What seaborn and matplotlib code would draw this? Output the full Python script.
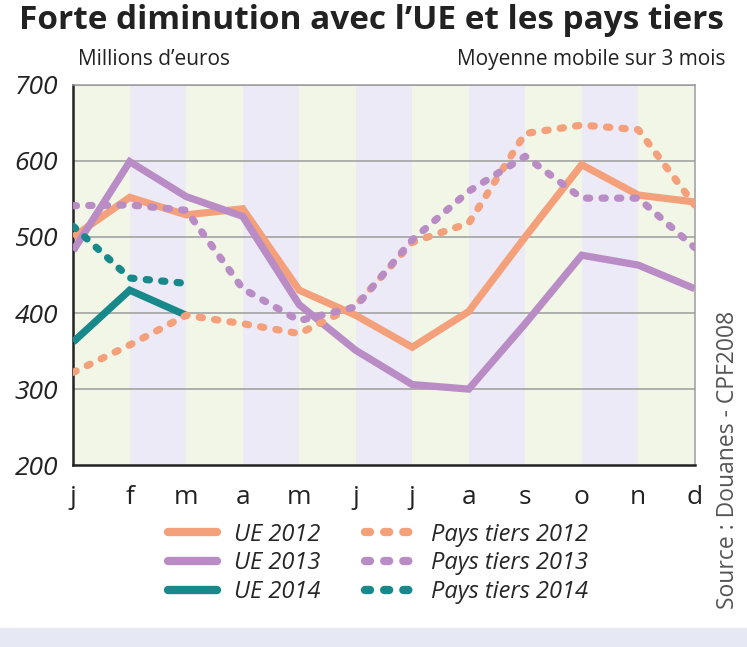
import matplotlib
matplotlib.use("Agg")
import matplotlib.pyplot as plt
from matplotlib import font_manager
from matplotlib.lines import Line2D
import seaborn as sns
import pandas as pd

# --- data ---
months = ["j", "f", "m", "a", "m", "j", "j", "a", "s", "o", "n", "d"]
ue_2012 = [500, 552, 529, 537, 430, 397, 355, 402, 500, 595, 555, 546]
ue_2013 = [482, 599, 553, 527, 411, 351, 306, 300, 386, 476, 463, 432]
ue_2014 = [362, 430, 397]
pt_2012 = [322, 358, 397, 386, 373, 410, 493, 518, 636, 647, 641, 542]
pt_2013 = [541, 542, 535, 432, 390, 408, 496, 560, 606, 551, 551, 486]
pt_2014 = [514, 446, 439]
yticks = [200, 300, 400, 500, 600, 700]

ORANGE = "#F4A07B"
PURPLE = "#B98CC6"
TEAL = "#17898B"
GREEN_BAND = "#F1F6E7"
LILAC_BAND = "#ECEAF6"


def pick_font(names):
    avail = {f.name for f in font_manager.fontManager.ttflist}
    for n in names:
        if n in avail:
            return n
    return "DejaVu Sans"


sns.set_theme(style="white")
FONT = pick_font(["Liberation Sans Narrow", "DejaVu Sans Condensed", "Open Sans", "Noto Sans"])
plt.rcParams["font.family"] = [FONT, "DejaVu Sans"]

series = [
    ("UE 2012", ue_2012, ORANGE, "solid"),
    ("UE 2013", ue_2013, PURPLE, "solid"),
    ("UE 2014", ue_2014, TEAL, "solid"),
    ("Pays tiers 2012", pt_2012, ORANGE, "dotted"),
    ("Pays tiers 2013", pt_2013, PURPLE, "dotted"),
    ("Pays tiers 2014", pt_2014, TEAL, "dotted"),
]
rows = []
for name, vals, _, _ in series:
    for i, v in enumerate(vals):
        rows.append({"serie": name, "mois": i, "valeur": v})
df = pd.DataFrame(rows)

fig = plt.figure(figsize=(7.47, 6.47), dpi=100)
ax = fig.add_axes([0.098, 0.281, 0.832, 0.588])

# alternating month bands
for i in range(len(months) - 1):
    ax.axvspan(i, i + 1, color=GREEN_BAND if i % 2 == 0 else LILAC_BAND, lw=0, zorder=0)

for yv in yticks[1:]:
    ax.axhline(yv, color="#9C9C9C", lw=1.1, zorder=1)

dot_style = (0, (0.45, 1.7))
handles = []
for name, vals, col, ls in series:
    sub = df[df["serie"] == name]
    style = "-" if ls == "solid" else dot_style
    sns.lineplot(data=sub, x="mois", y="valeur", ax=ax, color=col, lw=5.2,
                 linestyle=style, dash_capstyle="round", solid_capstyle="butt",
                 solid_joinstyle="miter", zorder=3, legend=False)
    handles.append(Line2D([0], [0], color=col, lw=6, linestyle=(0, (0.6, 1.7)) if ls != "solid" else "-",
                          dash_capstyle="round", solid_capstyle="round", label=name))

ax.set_xlim(0, 11)
ax.set_ylim(200, 700)
ax.set_xticks(range(len(months)))
ax.set_xticklabels(months, fontsize=19, color="#222222")
ax.set_yticks(yticks)
ax.set_yticklabels([str(v) for v in yticks], fontsize=19, fontstyle="italic", color="#222222")
ax.set_xlabel("")
ax.set_ylabel("")
ax.tick_params(axis="x", direction="out", length=10, width=1.6, color="#222222", pad=4)
ax.tick_params(axis="y", direction="out", length=8, width=1.6, color="#222222", pad=3)
for s in ["left", "bottom"]:
    ax.spines[s].set_color("#222222")
    ax.spines[s].set_linewidth(1.8)
for s in ["top", "right"]:
    ax.spines[s].set_color("#9C9C9C")
    ax.spines[s].set_linewidth(1.1)

fig.legend(handles=handles, ncol=2, loc="upper left", bbox_to_anchor=(0.212, 0.207),
           frameon=False, prop={"style": "italic", "size": 17},
           handlelength=2.1, handletextpad=0.7, columnspacing=1.9, labelspacing=0.2,
           borderaxespad=0)

fig.text(0.497, 0.968, "Forte diminution avec l\u2019UE et les pays tiers", ha="center", va="center",
         fontsize=24, fontweight="bold", color="#222222")
fig.text(0.104, 0.908, "Millions d\u2019euros", ha="left", va="center", fontsize=15, color="#222222")
fig.text(0.971, 0.908, "Moyenne mobile sur 3 mois", ha="right", va="center", fontsize=15, color="#222222")
fig.text(0.975, 0.289, "Source : Douanes - CPF2008", ha="center", va="center", rotation=90,
         fontsize=16.5, color="#555555")

# light strip at the bottom
fig.patches.append(plt.Rectangle((0, 0), 1, 0.03, transform=fig.transFigure,
                                 color="#E6E8F4", zorder=0))

fig.savefig("out.png", dpi=100)
